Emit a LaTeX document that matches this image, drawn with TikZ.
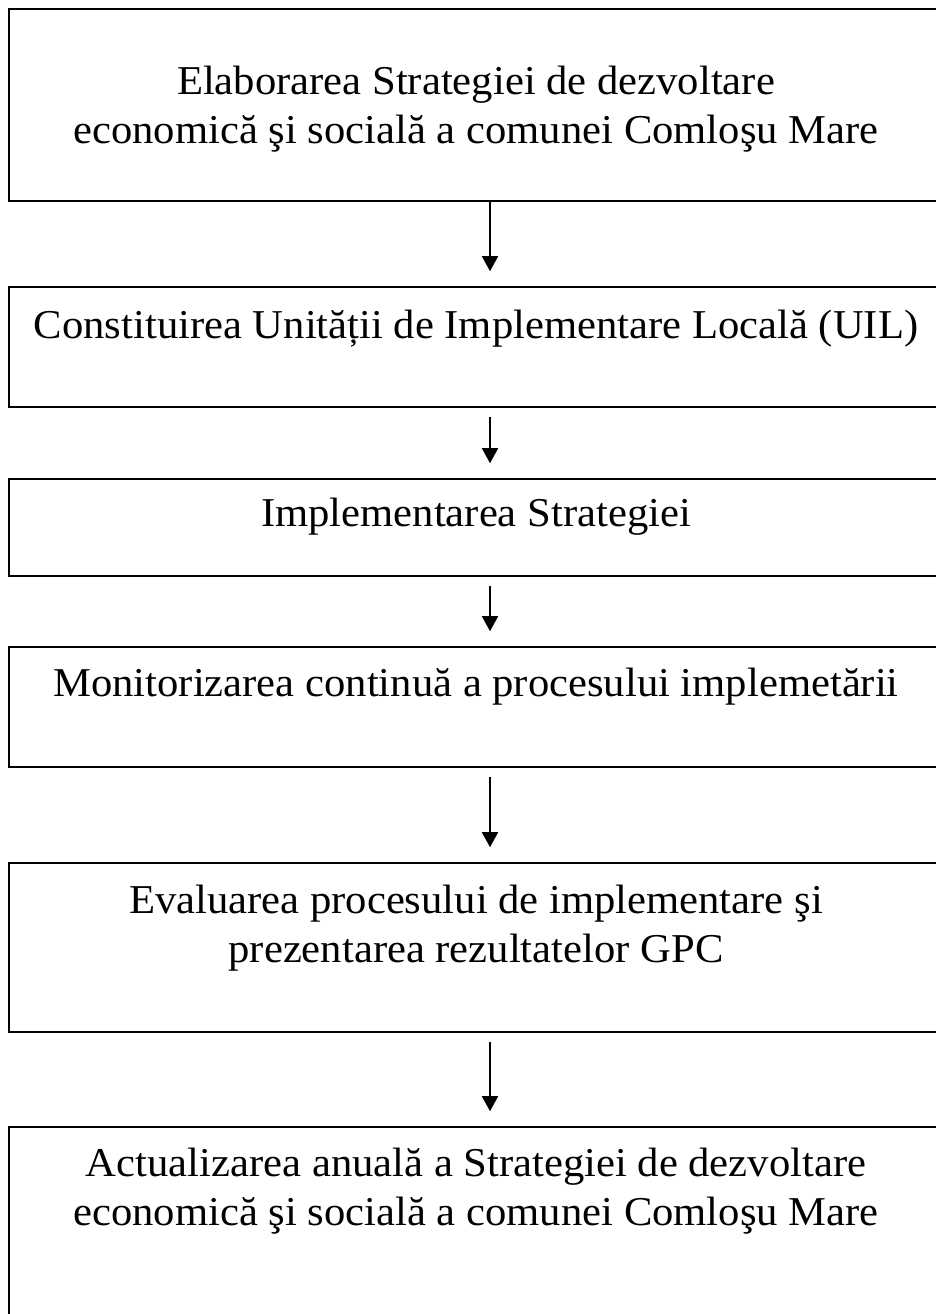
\documentclass[tikz,border=0pt]{standalone}
\usepackage{fontspec}
\setmainfont{Liberation Serif}[FakeStretch=1.04]
\usetikzlibrary{arrows.meta}

\tikzset{
  box/.style={draw, line width=0.8pt, rectangle, minimum width=468pt, inner sep=0pt},
  txt/.style={anchor=base, align=center, inner sep=0pt,
    font=\fontsize{20.5pt}{24.5pt}\selectfont},
  arr/.style={line width=0.8pt, -{Triangle[width=8pt,length=7.5pt]}}
}

\begin{document}
\begin{tikzpicture}[x=0.5pt, y=-0.5pt]
  \useasboundingbox (0,0) rectangle (936,1314);
  \clip (0,0) rectangle (936,1314);
  % boxes
  \node[box, minimum height=96pt] (1) at (477,105) {};
  \node[box, minimum height=60pt] (2) at (477,347) {};
  \node[box, minimum height=48.5pt] (3) at (477,527.5) {};
  \node[box, minimum height=60pt] (4) at (477,707) {};
  \node[box, minimum height=84.5pt] (5) at (477,947.5) {};
  \node[box, minimum height=101.5pt] (6) at (477,1228.5) {};
  % texts (base = last line)
  \node[txt] (t1) at (476,143) {Elaborarea Strategiei de dezvoltare\\economică şi socială a comunei Comloşu Mare};
  \node[txt] (t2) at (476,338) {Constituirea Unității de Implementare Locală (UIL)};
  \node[txt] (t3) at (476,526) {Implementarea Strategiei};
  \node[txt] (t4) at (476,696) {Monitorizarea continuă a procesului implemetării};
  \node[txt] (t5) at (476,962) {Evaluarea procesului de implementare şi\\prezentarea rezultatelor GPC};
  \node[txt] (t6) at (476,1225) {Actualizarea anuală a Strategiei de dezvoltare\\economică şi socială a comunei Comloşu Mare};
  % arrows
  \draw[arr, shorten >=7.5pt] ([xshift=6.5pt]1.south) -- ([xshift=6.5pt]2.north);
  \foreach \a/\b in {2/3, 3/4, 4/5, 5/6}
    \draw[arr, shorten <=4.5pt, shorten >=7.5pt] ([xshift=6.5pt]\a.south) -- ([xshift=6.5pt]\b.north);
\end{tikzpicture}
\end{document}
